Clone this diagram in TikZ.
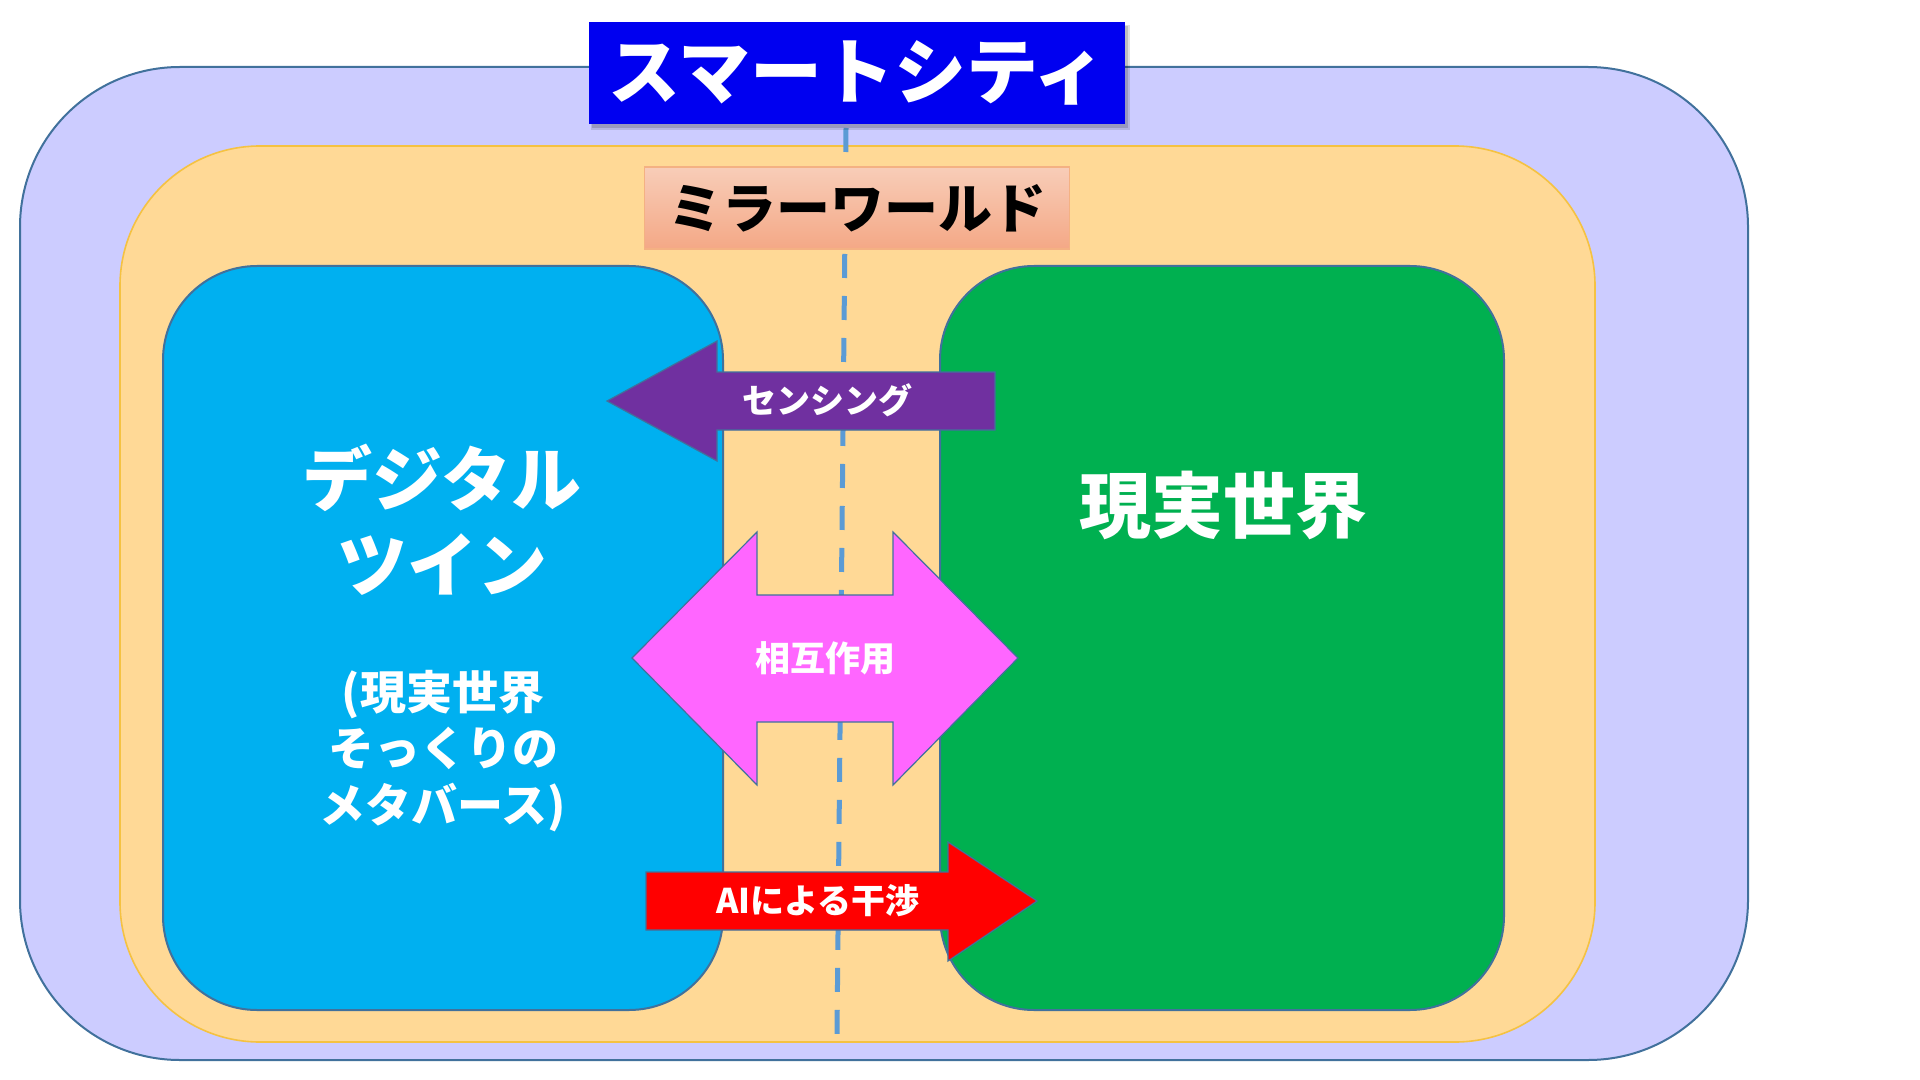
\documentclass[tikz,border=0pt]{standalone}
\usepackage{fontspec}
\newfontfamily\jp{Noto Sans CJK JP}
\newcommand\fsz[2]{\fontsize{#1}{#2}\selectfont}
\definecolor{lav}{HTML}{CCCCFF}
\definecolor{outl}{HTML}{41719C}
\definecolor{orng}{HTML}{FFD996}
\definecolor{orngline}{HTML}{F5C242}
\definecolor{cyanbox}{HTML}{00B0F0}
\definecolor{greenbox}{HTML}{00B050}
\definecolor{titleblue}{HTML}{0000F0}
\definecolor{salmonT}{HTML}{F8CDB8}
\definecolor{salmonB}{HTML}{F4A886}
\definecolor{salmonline}{HTML}{F4B183}
\definecolor{purp}{HTML}{7030A0}
\definecolor{magen}{HTML}{FF66FF}
\definecolor{redarr}{HTML}{FF0000}
\definecolor{dashblue}{HTML}{5B9BD5}
\begin{document}
\begin{tikzpicture}[x=0.5pt,y=-0.5pt,
  every node/.style={inner sep=0pt, outer sep=0pt},
  region/.style={draw=outl, line width=1pt},
  blockarrow/.style={draw=outl, line width=0.6pt},
  wtext/.style={text=white, font=\jp\bfseries},
  titlebox/.style={fill=titleblue, text=white, minimum width=268pt, minimum height=51pt, font=\jp\bfseries\fsz{36pt}{40pt}},
  mirrorbox/.style={top color=salmonT, bottom color=salmonB, draw=salmonline, line width=0.8pt, text=black, minimum width=212.5pt, minimum height=41pt, font=\jp\bfseries\fsz{27pt}{30pt}},
  mirrorline/.style={draw=dashblue, line width=2.5pt, dash pattern=on 12pt off 9pt}
]
\useasboundingbox (0,0) rectangle (1920,1080);
\fill[white] (0,0) rectangle (1920,1080);

% nested regions
\draw[region, fill=lav, rounded corners=80pt] (20,67) rectangle (1748,1060);
\draw[draw=orngline, line width=0.8pt, fill=orng, rounded corners=70pt] (120,146) rectangle (1595,1042);
\draw[region, fill=cyanbox, rounded corners=47pt] (163,266) rectangle (723,1010);
\draw[region, fill=greenbox, rounded corners=47pt] (940,266) rectangle (1504,1010);

% dashed centre line
\coordinate (dtop) at (846,128);
\coordinate (dbot) at (837,1034);
\draw[mirrorline] (dtop) -- (dbot);

% title
\fill[black, opacity=0.12] (591,25) rectangle (1130,130);
\fill[black, opacity=0.15] (592,26) rectangle (1128,128);
\node[titlebox] (title) at (857,73) {スマートシティ};

% mirror world
\node[mirrorbox] (mirror) at (857,208) {ミラーワールド};

% sensing arrow
\draw[blockarrow, fill=purp] (995,372) -- (717,372) -- (717,341) -- (607,401) -- (717,461) -- (717,430) -- (995,430) -- cycle;
% interaction arrow
\draw[blockarrow, fill=magen] (632,658) -- (757,532) -- (757,595) -- (893,595) -- (893,532) -- (1018,658) -- (893,785) -- (893,722) -- (757,722) -- (757,785) -- cycle;
% AI arrow
\draw[blockarrow, fill=redarr] (646,872) -- (948,872) -- (948,842) -- (1037,901) -- (948,961) -- (948,930) -- (646,930) -- cycle;

% texts
\node[wtext, font=\jp\bfseries\fsz{17pt}{20pt}] (sens) at (827,400) {センシング};
\node[wtext, font=\jp\bfseries\fsz{17.5pt}{20pt}] (inter) at (825,658) {相互作用};
\node[wtext, font=\jp\bfseries\fsz{17pt}{20pt}] (ai) at (818,901) {AIによる干渉};
\node[wtext, align=center, font=\jp\bfseries\fsz{35pt}{43pt}] (dt) at (442,520) {デジタル\\ツイン};
\node[wtext, align=center, font=\jp\bfseries\fsz{23pt}{28.3pt}] (meta) at (443,751) {(現実世界\\そっくりの\\メタバース)};
\node[wtext, font=\jp\bfseries\fsz{36pt}{40pt}] (real) at (1223,505) {現実世界};
\end{tikzpicture}
\end{document}
